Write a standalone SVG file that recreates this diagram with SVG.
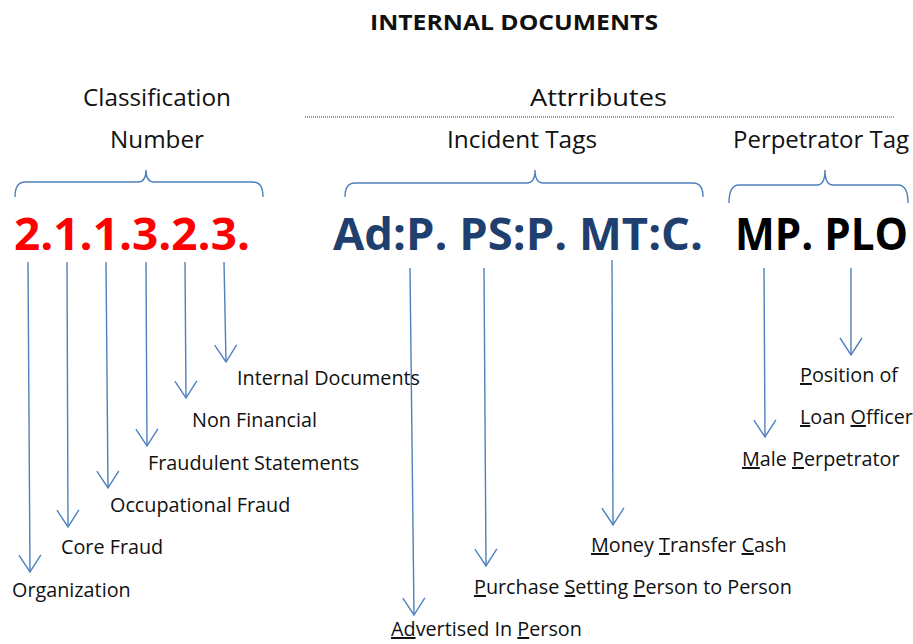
<svg xmlns="http://www.w3.org/2000/svg" width="913" height="644" viewBox="0 0 913 644">
<defs>
<style>
.t{font-family:"Open Sans","Noto Sans",sans-serif;fill:#111;}
.lbl{font-size:19.8px;}
.hd{font-size:24px;}
.big{font-size:45px;font-weight:bold;}
.u{text-decoration:underline;}
.ar{stroke:#4F81BD;stroke-width:1.4;fill:none;marker-end:url(#ah);}
.br{stroke:#4F81BD;stroke-width:1.4;fill:none;}
</style>
<marker id="ah" markerUnits="userSpaceOnUse" markerWidth="40" markerHeight="40" refX="0" refY="0" orient="auto" overflow="visible">
<path d="M-17,-11 L0,0 L-17,11" fill="none" stroke="#4F81BD" stroke-width="1.4"/>
</marker>
</defs>
<rect width="913" height="644" fill="#fff"/>

<g id="title"><text class="t" x="370" y="30" font-size="21.5" font-weight="bold" textLength="288" lengthAdjust="spacingAndGlyphs">INTERNAL DOCUMENTS</text></g>

<g id="headers">
<text class="t hd" x="83" y="106" textLength="148" lengthAdjust="spacingAndGlyphs">Classification</text>
<text class="t hd" x="110" y="148" textLength="94" lengthAdjust="spacingAndGlyphs">Number</text>
<text class="t hd" x="530" y="106" textLength="137" lengthAdjust="spacingAndGlyphs">Attrributes</text>
<line x1="305" y1="117" x2="895" y2="117" stroke="#444" stroke-width="1" stroke-dasharray="1,1"/>
<text class="t hd" x="447" y="148" textLength="150" lengthAdjust="spacingAndGlyphs">Incident Tags</text>
<text class="t hd" x="733" y="148" textLength="176" lengthAdjust="spacingAndGlyphs">Perpetrator Tag</text>
</g>

<g id="braces">
<path class="br" d="M15,197 Q15,182 25,182 L138,182 Q146,182 146,170 Q146,182 154,182 L253,182 Q263,182 263,197"/>
<path class="br" d="M345,197 Q345,183 355,183 L527,183 Q535,183 535,170 Q535,183 543,183 L693,183 Q703,183 703,197"/>
<path class="br" d="M729,203 Q729,185 739,185 L817,185 Q825,185 825,170 Q825,185 833,185 L898,185 Q908,185 908,203"/>
</g>

<g id="codes">
<text class="t big" x="14" y="250" style="fill:#FF0000" textLength="236" lengthAdjust="spacingAndGlyphs">2.1.1.3.2.3.</text>
<text class="t big" x="333" y="250" style="fill:#1F3F6E" textLength="370" lengthAdjust="spacingAndGlyphs">Ad:P. PS:P. MT:C.</text>
<text class="t big" x="735" y="250" style="fill:#000" textLength="173" lengthAdjust="spacingAndGlyphs">MP. PLO</text>
</g>

<g id="connectors">
<line class="ar" x1="28" y1="262" x2="30" y2="572"/>
<line class="ar" x1="67" y1="262" x2="68" y2="527"/>
<line class="ar" x1="106" y1="262" x2="108" y2="488"/>
<line class="ar" x1="146" y1="262" x2="147" y2="446"/>
<line class="ar" x1="185" y1="262" x2="186" y2="398"/>
<line class="ar" x1="224" y1="262" x2="226" y2="362"/>
<line class="ar" x1="410" y1="268" x2="414" y2="615"/>
<line class="ar" x1="484" y1="268" x2="486" y2="566"/>
<line class="ar" x1="612" y1="260" x2="613" y2="525"/>
<line class="ar" x1="764" y1="268" x2="765" y2="437"/>
<line class="ar" x1="851" y1="268" x2="851" y2="355"/>
</g>

<g id="n-internal"><text class="t lbl" x="237" y="385">Internal Documents</text></g>
<g id="n-nonfin"><text class="t lbl" x="192" y="427">Non Financial</text></g>
<g id="n-fraud-stmt"><text class="t lbl" x="148" y="470">Fraudulent Statements</text></g>
<g id="n-occ"><text class="t lbl" x="110" y="512">Occupational Fraud</text></g>
<g id="n-core"><text class="t lbl" x="61" y="554">Core Fraud</text></g>
<g id="n-org"><text class="t lbl" x="12" y="597">Organization</text></g>

<g id="n-mt"><text class="t lbl" x="591" y="552"><tspan class="u">M</tspan>oney <tspan class="u">T</tspan>ransfer <tspan class="u">C</tspan>ash</text></g>
<g id="n-ps"><text class="t lbl" x="474" y="594"><tspan class="u">P</tspan>urchase <tspan class="u">S</tspan>etting <tspan class="u">P</tspan>erson to Person</text></g>
<g id="n-ad"><text class="t lbl" x="391" y="636"><tspan class="u">Ad</tspan>vertised In <tspan class="u">P</tspan>erson</text></g>
<g id="n-pos"><text class="t lbl" x="800" y="382"><tspan class="u">P</tspan>osition of</text><text class="t lbl" x="800" y="424"><tspan class="u">L</tspan>oan <tspan class="u">O</tspan>fficer</text></g>
<g id="n-male"><text class="t lbl" x="742" y="466"><tspan class="u">M</tspan>ale <tspan class="u">P</tspan>erpetrator</text></g>
</svg>
